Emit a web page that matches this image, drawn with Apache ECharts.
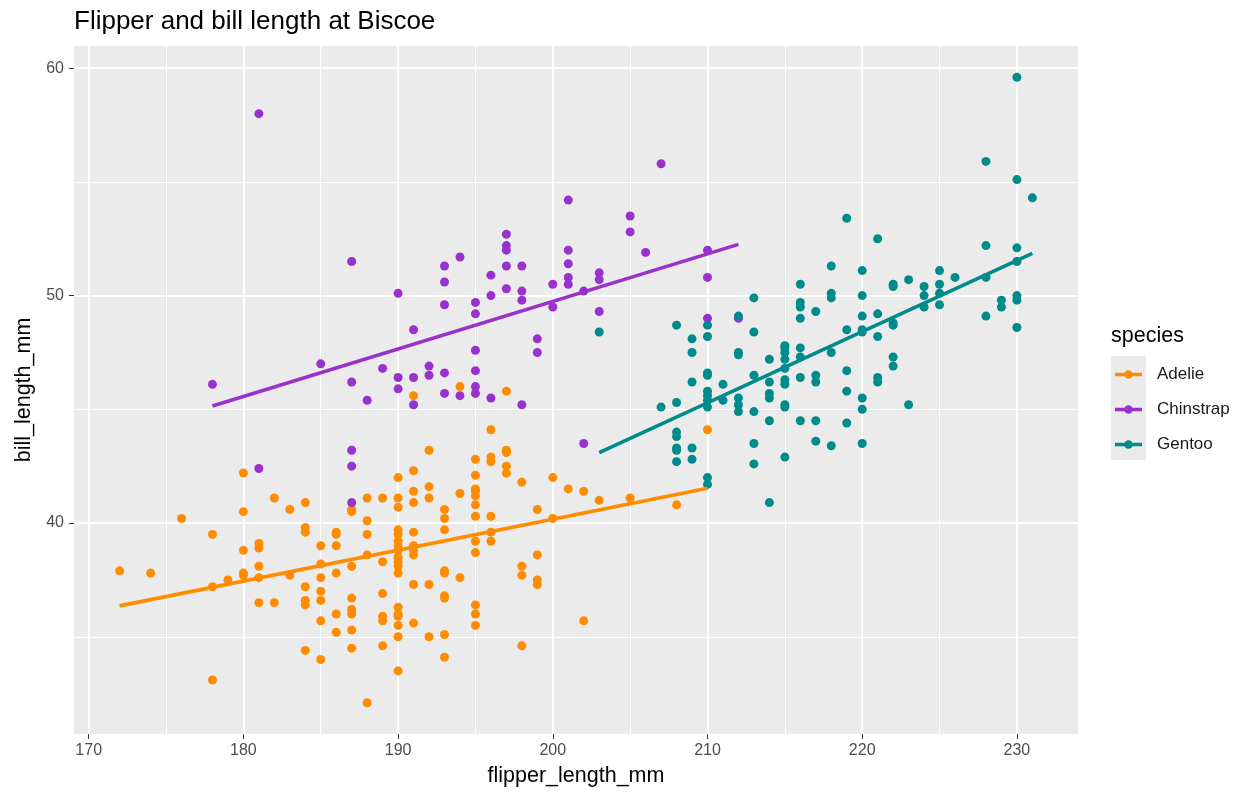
<!DOCTYPE html>
<html>
<head>
<meta charset="utf-8">
<script src="https://cdn.jsdelivr.net/npm/echarts@6/dist/echarts.min.js"></script>
<style>
html,body{margin:0;padding:0;background:#fff;}
#chart{width:1247px;height:792px;}
</style>
</head>
<body>
<div id="chart"></div>
<script>
// ---- data: [flipper_length_mm, bill_length_mm] ----
const species = ['Adelie', 'Chinstrap', 'Gentoo'];
const speciesColors = ['#FF8C00', '#9932CC', '#008B8B'];

const adelie = [
  [172,37.9],[174,37.8],[176,40.2],
  [178,39.5],[178,37.2],[178,33.1],
  [179,37.5],
  [180,42.2],[180,40.5],[180,38.8],[180,37.8],[180,37.7],
  [181,39.1],[181,38.9],[181,38.1],[181,37.6],[181,36.5],
  [182,41.1],[182,36.5],
  [183,40.6],[183,37.7],
  [184,40.9],[184,39.8],[184,39.6],[184,37.2],[184,36.6],[184,36.4],[184,34.4],
  [185,39.0],[185,38.2],[185,37.6],[185,37.0],[185,36.6],[185,35.7],[185,34.0],
  [186,39.6],[186,39.5],[186,39.0],[186,37.8],[186,36.0],[186,35.2],
  [187,40.6],[187,40.5],[187,38.1],[187,36.7],[187,36.2],[187,36.0],[187,35.3],[187,34.5],
  [188,41.1],[188,40.1],[188,39.5],[188,38.6],[188,32.1],
  [189,41.1],[189,38.3],[189,36.9],[189,35.9],[189,35.7],[189,34.6],
  [190,42.0],[190,41.1],[190,40.7],[190,39.7],[190,39.5],[190,39.2],[190,39.0],[190,38.8],[190,38.5],
  [190,38.3],[190,38.1],[190,37.8],[190,36.3],[190,36.0],[190,35.9],[190,35.5],[190,35.0],[190,33.5],
  [191,45.6],[191,42.3],[191,41.4],[191,40.9],[191,39.6],[191,39.0],[191,38.8],[191,38.6],[191,37.3],[191,35.6],
  [192,43.2],[192,41.6],[192,41.1],[192,37.3],[192,35.0],
  [193,40.6],[193,40.2],[193,39.7],[193,37.9],[193,37.8],[193,36.8],[193,36.7],[193,35.1],[193,34.1],
  [194,46.0],[194,41.3],[194,37.6],
  [195,42.8],[195,42.1],[195,41.5],[195,41.4],[195,41.2],[195,40.8],[195,40.3],[195,39.2],[195,38.7],[195,36.4],[195,36.0],[195,35.5],
  [196,44.1],[196,42.9],[196,42.7],[196,40.3],[196,39.6],[196,39.2],
  [197,45.8],[197,43.2],[197,43.1],[197,42.5],[197,42.2],
  [198,41.8],[198,38.1],[198,37.7],[198,34.6],
  [199,40.6],[199,38.6],[199,37.5],[199,37.3],
  [200,42.0],[200,40.2],
  [201,41.5],
  [202,41.4],[202,35.7],
  [203,41.0],[205,41.1],[208,40.8],[210,44.1]
];

const chinstrap = [
  [178,46.1],
  [181,58.0],[181,42.4],
  [185,47.0],
  [187,51.5],[187,46.2],[187,43.2],[187,42.5],[187,40.9],
  [188,45.4],
  [189,46.8],
  [190,50.1],[190,46.4],[190,45.9],
  [191,48.5],[191,46.4],[191,45.2],
  [192,46.9],[192,46.5],
  [193,51.3],[193,50.6],[193,49.6],[193,46.6],[193,45.7],
  [194,51.7],[194,45.6],
  [195,49.7],[195,49.2],[195,47.6],[195,46.7],[195,46.0],[195,45.7],
  [196,50.9],[196,50.0],[196,45.5],
  [197,52.7],[197,52.2],[197,52.0],[197,51.3],[197,50.3],
  [198,51.3],[198,50.2],[198,49.8],[198,45.2],
  [199,48.1],[199,47.5],
  [200,50.5],[200,49.5],
  [201,54.2],[201,52.0],[201,51.4],[201,50.8],[201,50.5],
  [202,50.2],[202,43.5],
  [203,51.0],[203,50.7],[203,49.3],
  [205,53.5],[205,52.8],
  [206,51.9],
  [207,55.8],
  [210,52.0],[210,50.8],[210,49.0],
  [212,49.0]
];

const gentoo = [
  [203,48.4],
  [207,45.1],
  [208,48.7],[208,45.3],[208,44.0],[208,43.8],[208,43.3],[208,43.2],[208,42.7],
  [209,48.1],[209,47.5],[209,46.2],[209,43.3],[209,42.8],
  [210,48.7],[210,48.2],[210,46.6],[210,46.5],[210,45.8],[210,45.6],[210,45.4],[210,45.1],[210,42.0],[210,41.7],
  [211,46.1],[211,45.4],
  [212,49.1],[212,47.5],[212,47.4],[212,45.5],[212,45.2],[212,44.9],
  [213,49.9],[213,48.4],[213,46.5],[213,44.9],[213,43.5],[213,42.6],
  [214,47.2],[214,46.2],[214,45.7],[214,45.5],[214,44.5],[214,40.9],
  [215,47.8],[215,47.7],[215,47.5],[215,47.2],[215,46.8],[215,46.3],[215,46.1],[215,45.2],[215,45.1],[215,42.9],
  [216,50.5],[216,49.7],[216,49.5],[216,49.0],[216,47.7],[216,47.3],[216,46.4],[216,44.5],
  [217,49.3],[217,46.5],[217,46.2],[217,44.5],[217,43.6],
  [218,51.3],[218,50.1],[218,49.9],[218,47.5],[218,43.4],
  [219,53.4],[219,48.5],[219,46.7],[219,45.8],[219,44.4],
  [220,51.1],[220,50.0],[220,49.1],[220,48.5],[220,48.4],[220,45.5],[220,45.0],[220,43.5],
  [221,52.5],[221,49.2],[221,48.2],[221,46.4],[221,46.2],
  [222,50.5],[222,50.4],[222,48.8],[222,48.7],[222,47.3],[222,46.9],
  [223,50.7],[223,45.2],
  [224,50.4],[224,50.0],[224,49.5],
  [225,51.1],[225,50.5],[225,50.1],[225,49.6],
  [226,50.8],
  [228,55.9],[228,52.2],[228,50.8],[228,49.1],
  [229,49.8],[229,49.5],
  [230,59.6],[230,55.1],[230,52.1],[230,51.5],[230,50.0],[230,49.8],[230,48.6],
  [231,54.3]
];

const seriesData = [adelie, chinstrap, gentoo];

// ---- linear fit (like geom_smooth(method = "lm", se = FALSE)) ----
function lmLine(pts) {
  const n = pts.length;
  let mx = 0, my = 0;
  pts.forEach(p => { mx += p[0]; my += p[1]; });
  mx /= n; my /= n;
  let sxy = 0, sxx = 0;
  pts.forEach(p => { sxy += (p[0]-mx)*(p[1]-my); sxx += (p[0]-mx)*(p[0]-mx); });
  const b = sxy / sxx, a = my - b * mx;
  const xs = pts.map(p => p[0]);
  const x0 = Math.min.apply(null, xs), x1 = Math.max.apply(null, xs);
  return [[x0, a + b*x0], [x1, a + b*x1]];
}

// axis ranges with ggplot's 5% expansion
const allPts = adelie.concat(chinstrap, gentoo);
function expand(vals) {
  const lo = Math.min.apply(null, vals), hi = Math.max.apply(null, vals);
  const d = (hi - lo) * 0.05;
  return [lo - d, hi + d];
}
const xr = expand(allPts.map(p => p[0]));
const yr = expand(allPts.map(p => p[1]));

const FONT = '"Liberation Sans", Arial, Helvetica, sans-serif';

const series = [];
species.forEach((s, i) => {
  series.push({
    name: s, type: 'scatter', data: seriesData[i], symbol: 'circle', symbolSize: 9,
    itemStyle: { color: speciesColors[i], opacity: 1 }, z: 2
  });
});
species.forEach((s, i) => {
  series.push({
    name: s, type: 'line', data: lmLine(seriesData[i]), symbol: 'none', showSymbol: false,
    lineStyle: { color: speciesColors[i], width: 3.6 }, itemStyle: { color: speciesColors[i] }, z: 3
  });
});

const chart = echarts.init(document.getElementById('chart'), null, { renderer: 'canvas' });
chart.setOption({
  animation: false,
  backgroundColor: '#FFFFFF',
  textStyle: { fontFamily: FONT },
  title: {
    text: 'Flipper and bill length at Biscoe', left: 74, top: 9, padding: 0,
    textStyle: { fontSize: 26, fontWeight: 'normal', color: '#000000', fontFamily: FONT }
  },
  grid: {
    left: 74, right: 169, top: 46, bottom: 54.5, show: true,
    backgroundColor: '#EBEBEB', borderWidth: 0, containLabel: false
  },
  xAxis: {
    type: 'value', min: xr[0], max: xr[1], splitNumber: 5, scale: true,
    name: 'flipper_length_mm', nameLocation: 'middle', nameGap: 31,
    nameTextStyle: { fontSize: 21.5, color: '#000000', fontFamily: FONT },
    axisLine: { show: false, onZero: false },
    axisTick: { show: true, length: 5, lineStyle: { color: '#333333', width: 1 } },
    axisLabel: { fontSize: 16, color: '#4D4D4D', margin: 9, showMinLabel: false, showMaxLabel: false, fontFamily: FONT },
    splitLine: { show: true, showMinLine: false, showMaxLine: false, lineStyle: { color: '#FFFFFF', width: 2 } },
    minorTick: { show: false, splitNumber: 2 },
    minorSplitLine: { show: true, lineStyle: { color: '#FFFFFF', width: 1 } }
  },
  yAxis: {
    type: 'value', min: yr[0], max: yr[1], splitNumber: 3, scale: true,
    name: 'bill_length_mm', nameLocation: 'middle', nameGap: 27, nameRotate: 90,
    nameTextStyle: { fontSize: 21.5, color: '#000000', fontFamily: FONT },
    axisLine: { show: false, onZero: false },
    axisTick: { show: true, length: 5, lineStyle: { color: '#333333', width: 1 } },
    axisLabel: { fontSize: 16, color: '#4D4D4D', margin: 10, showMinLabel: false, showMaxLabel: false, fontFamily: FONT },
    splitLine: { show: true, showMinLine: false, showMaxLine: false, lineStyle: { color: '#FFFFFF', width: 2 } },
    minorTick: { show: false, splitNumber: 2 },
    minorSplitLine: { show: true, lineStyle: { color: '#FFFFFF', width: 1 } }
  },
  legend: {
    data: species, orient: 'vertical', left: 1115, top: 366, padding: 0,
    itemWidth: 27, itemHeight: 10, itemGap: 18,
    icon: 'path://M0,3.2H27V6.8H0Z M13.5,0.7A4.3,4.3,0,1,1,13.49,0.7Z',
    textStyle: { fontSize: 17, color: '#1A1A1A', fontFamily: FONT, padding: [0, 0, 0, 10] },
    selectedMode: false
  },
  graphic: [
    { type: 'rect', left: 1111, top: 356, z: -1, shape: { width: 35, height: 104 }, style: { fill: '#EBEBEB' } },
    { type: 'text', left: 1111, top: 325, style: { text: 'species', fontSize: 21.5, fill: '#000000', fontFamily: FONT } }
  ],
  series: series
});
</script>
</body>
</html>
